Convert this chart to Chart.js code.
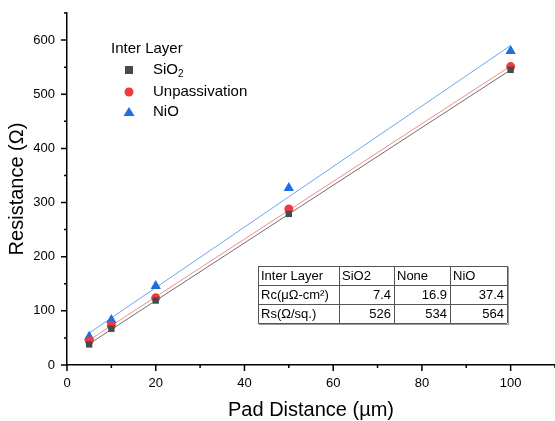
<!DOCTYPE html>
<html>
<head>
<meta charset="utf-8">
<script src="https://cdn.jsdelivr.net/npm/chart.js@4/dist/chart.umd.min.js"></script>
<style>
  html, body { margin: 0; padding: 0; background: #fff; }
  #wrap { width: 555px; height: 421px; }
</style>
</head>
<body>
<div id="wrap"><canvas id="chart"></canvas></div>
<script>
// data
const padDistance = [5, 10, 20, 50, 100];
const sio2 = [38, 67, 119, 279, 545];
const unpass = [45, 73, 124, 288, 551];
const nio = [52, 83, 146, 327, 580];

// linear fit lines, end points at x = 5 and x = 100
const fitX = [5, 100];
const fitSio2 = [39, 545];
const fitUnpass = [46, 552];
const fitNio = [59, 590];

const seriesNames = ["SiO₂", "Unpassivation", "NiO"];
const legendTitle = "Inter Layer";

const xTicks = [0, 20, 40, 60, 80, 100];
const xMinor = [10, 30, 50, 70, 90, 110];
const yTicks = [0, 100, 200, 300, 400, 500, 600];
const yMinor = [50, 150, 250, 350, 450, 550, 650];

// summary table
const tableHeader = ["Inter Layer", "SiO2", "None", "NiO"];
const tableRc = ["Rc(μΩ-cm²)", "7.4", "16.9", "37.4"];
const tableRs = ["Rs(Ω/sq.)", "526", "534", "564"];

const FONT = "'Liberation Sans', Arial, sans-serif";
const colors = {
  sio2: "#4a4a4a", sio2Line: "#6e6e6e",
  unpass: "#ee3a3f", unpassLine: "#f28a8c",
  nio: "#1f6fe0", nioLine: "#6ea3ef"
};

const pts = (xs, ys) => xs.map((x, i) => ({ x: x, y: ys[i] }));

function scatterSet(label, ys, color, style, radius) {
  return {
    label: label, type: "scatter", data: pts(padDistance, ys),
    pointStyle: style, pointRadius: radius, pointHoverRadius: radius,
    backgroundColor: color, borderColor: color, borderWidth: 0, order: 1
  };
}
function fitSet(ys, color) {
  return {
    type: "line", data: pts(fitX, ys), borderColor: color, borderWidth: 1,
    pointRadius: 0, fill: false, order: 2
  };
}

// tick marks (major + minor) drawn by hand
const ticksPlugin = {
  id: "ticks",
  afterDraw(chart) {
    const ctx = chart.ctx, xs = chart.scales.x, ys = chart.scales.y;
    const area = chart.chartArea;
    ctx.save();
    ctx.strokeStyle = "#000";
    ctx.lineWidth = 1.5;
    ctx.beginPath();
    xTicks.forEach(v => { const p = xs.getPixelForValue(v); ctx.moveTo(p, area.bottom); ctx.lineTo(p, area.bottom + 6); });
    xMinor.forEach(v => { const p = xs.getPixelForValue(v); ctx.moveTo(p, area.bottom); ctx.lineTo(p, area.bottom + 3); });
    yTicks.forEach(v => { const p = ys.getPixelForValue(v); ctx.moveTo(area.left, p); ctx.lineTo(area.left - 6, p); });
    yMinor.forEach(v => { const p = ys.getPixelForValue(v); ctx.moveTo(area.left, p); ctx.lineTo(area.left - 3, p); });
    ctx.stroke();
    ctx.restore();
  }
};

// draw text, subscript digits (₀-₉) smaller and lower
function fillSubText(ctx, txt, x, y, size) {
  for (const ch of txt) {
    const code = ch.charCodeAt(0);
    if (code >= 0x2080 && code <= 0x2089) {
      ctx.font = Math.round(size * 0.68) + "px " + FONT;
      const d = String(code - 0x2080);
      ctx.fillText(d, x, y + size * 0.3);
      x += ctx.measureText(d).width;
    } else {
      ctx.font = size + "px " + FONT;
      ctx.fillText(ch, x, y);
      x += ctx.measureText(ch).width;
    }
  }
}

// legend in the upper left corner
const legendPlugin = {
  id: "myLegend",
  afterDraw(chart) {
    const ctx = chart.ctx;
    ctx.save();
    ctx.fillStyle = "#000";
    ctx.font = "15px " + FONT;
    ctx.textBaseline = "middle";
    ctx.fillText(legendTitle, 111, 49);
    const rows = [70, 92, 112];
    const styles = ["rect", "circle", "triangle"];
    const cols = [colors.sio2, colors.unpass, colors.nio];
    rows.forEach((y, i) => {
      ctx.fillStyle = cols[i];
      const x = 129;
      ctx.beginPath();
      if (styles[i] === "rect") ctx.rect(x - 4, y - 4, 8, 8);
      else if (styles[i] === "circle") ctx.arc(x, y, 4.5, 0, Math.PI * 2);
      else { ctx.moveTo(x, y - 5); ctx.lineTo(x + 5.5, y + 4); ctx.lineTo(x - 5.5, y + 4); ctx.closePath(); }
      ctx.fill();
      ctx.fillStyle = "#000";
      fillSubText(ctx, seriesNames[i], 153, y, 15);
    });
    ctx.restore();
  }
};

// results table
const tablePlugin = {
  id: "table",
  afterDraw(chart) {
    const ctx = chart.ctx;
    const colX = [258, 339, 394, 450, 507];
    const rowY = [266, 285, 304, 323];
    const rows = [tableHeader, tableRc, tableRs];
    ctx.save();
    ctx.fillStyle = "#fff";
    ctx.fillRect(colX[0], rowY[0], colX[4] - colX[0], rowY[3] - rowY[0]);
    ctx.strokeStyle = "#555";
    ctx.lineWidth = 1;
    ctx.beginPath();
    rowY.forEach(y => { ctx.moveTo(colX[0], y + 0.5); ctx.lineTo(colX[4], y + 0.5); });
    colX.forEach(x => { ctx.moveTo(x + 0.5, rowY[0]); ctx.lineTo(x + 0.5, rowY[3]); });
    ctx.stroke();
    ctx.strokeStyle = "#999";
    ctx.beginPath();
    ctx.moveTo(colX[4] + 1.5, rowY[0] + 1); ctx.lineTo(colX[4] + 1.5, rowY[3] + 1.5);
    ctx.lineTo(colX[0] + 1, rowY[3] + 1.5);
    ctx.stroke();
    ctx.fillStyle = "#000";
    ctx.font = "13px " + FONT;
    ctx.textBaseline = "middle";
    rows.forEach((r, ri) => {
      const yc = (rowY[ri] + rowY[ri + 1]) / 2 + 1;
      r.forEach((txt, ci) => {
        if (ri === 0 || ci === 0) {
          ctx.textAlign = "left";
          ctx.fillText(txt, colX[ci] + 3, yc);
        } else {
          ctx.textAlign = "right";
          ctx.fillText(txt, colX[ci + 1] - 3, yc);
        }
      });
    });
    ctx.restore();
  }
};

new Chart(document.getElementById("chart"), {
  data: {
    datasets: [
      fitSet(fitSio2, colors.sio2Line),
      fitSet(fitUnpass, colors.unpassLine),
      fitSet(fitNio, colors.nioLine),
      scatterSet(seriesNames[0], sio2, colors.sio2, "rect", 4.5),
      scatterSet(seriesNames[1], unpass, colors.unpass, "circle", 4.5),
      scatterSet(seriesNames[2], nio, colors.nio, "triangle", 6)
    ]
  },
  options: {
    responsive: true,
    maintainAspectRatio: false,
    animation: false,
    layout: { autoPadding: false, padding: { top: 13, right: 0, left: 0, bottom: 0 } },
    plugins: { legend: { display: false }, tooltip: { enabled: false } },
    scales: {
      x: {
        type: "linear", min: 0, max: 110,
        afterBuildTicks: s => { s.ticks = xTicks.map(v => ({ value: v })); },
        afterFit: s => { s.height = 56; s.paddingLeft = 0; s.paddingRight = 0; },
        grid: { drawOnChartArea: false, drawTicks: false },
        border: { color: "#000", width: 1.5 },
        ticks: { color: "#000", font: { family: FONT, size: 13 }, padding: 11, maxRotation: 0 },
        title: { display: true, text: "Pad Distance (µm)", color: "#000", font: { family: FONT, size: 20 }, padding: { top: 4, bottom: -1 } }
      },
      y: {
        type: "linear", min: 0, max: 650,
        afterBuildTicks: s => { s.ticks = yTicks.map(v => ({ value: v })); },
        afterFit: s => { s.width = 67; s.paddingTop = 0; s.paddingBottom = 0; },
        grid: { drawOnChartArea: false, drawTicks: false },
        border: { color: "#000", width: 1.5 },
        ticks: { color: "#000", font: { family: FONT, size: 13 }, padding: 12 },
        title: { display: true, text: "Resistance (Ω)", color: "#000", font: { family: FONT, size: 20 }, padding: { top: 5, bottom: 0 } }
      }
    }
  },
  plugins: [ticksPlugin, legendPlugin, tablePlugin]
});
</script>
</body>
</html>
